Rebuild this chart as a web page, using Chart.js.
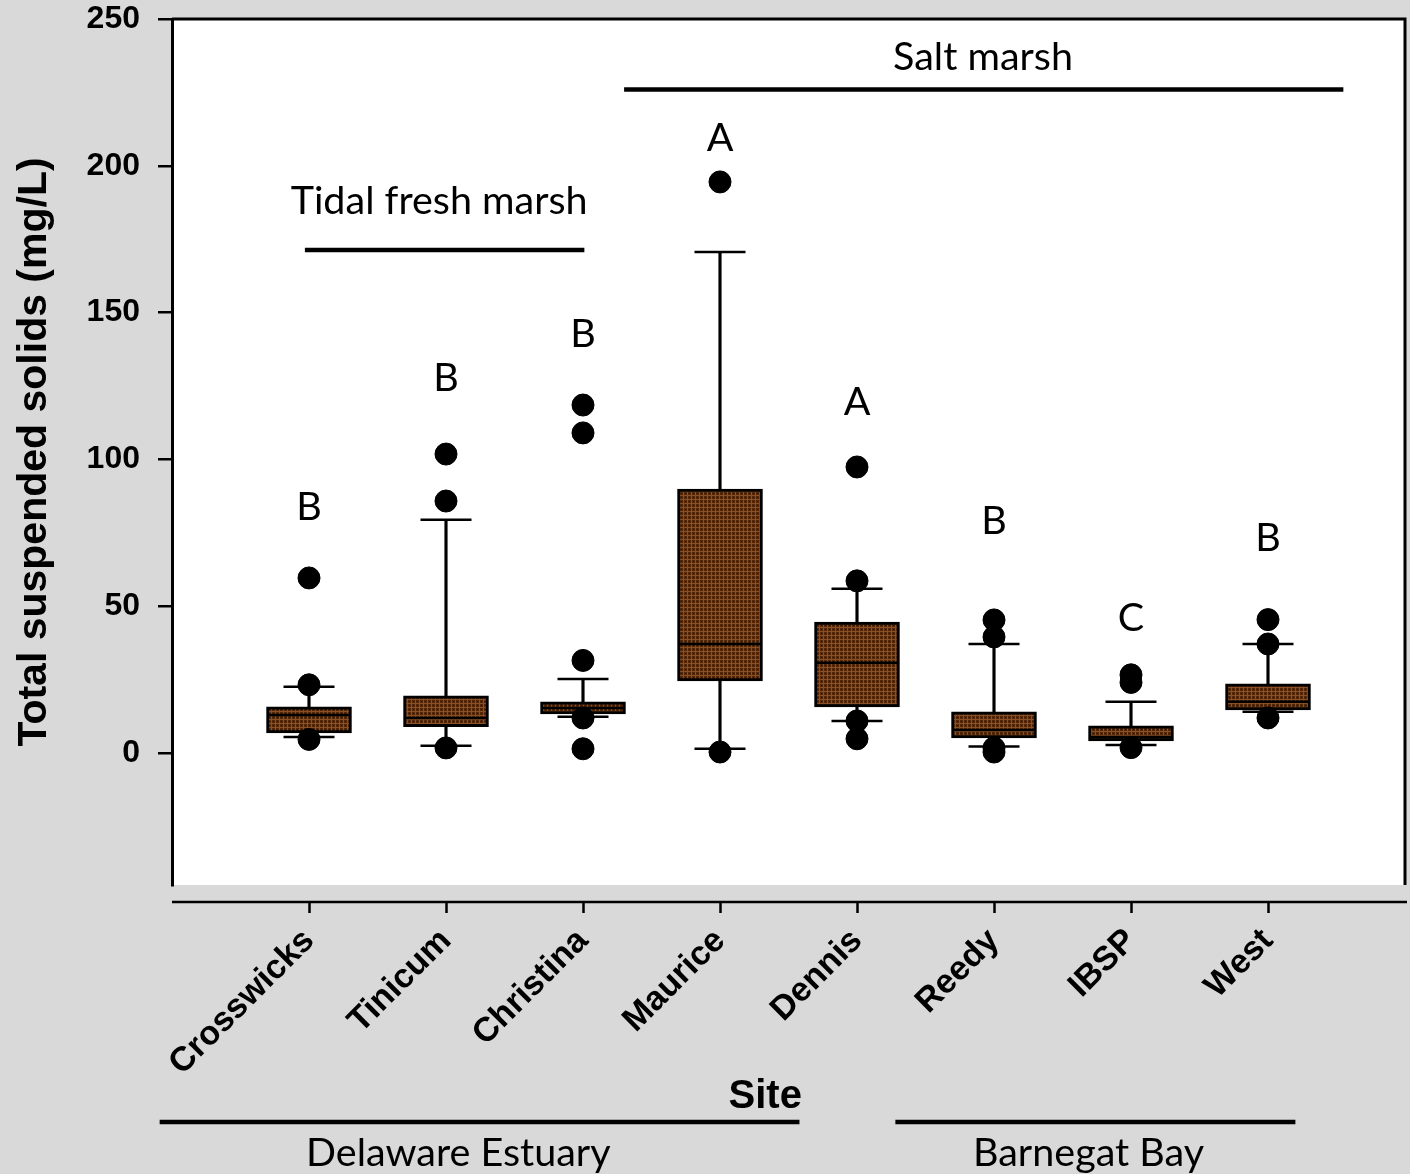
<!DOCTYPE html>
<html>
<head>
<meta charset="utf-8">
<script src="https://cdn.jsdelivr.net/npm/chart.js@4"></script>
<style>
  html, body { margin: 0; padding: 0; background: #d9d9d9; }
  canvas { display: block; }
</style>
</head>
<body>
<canvas id="tssChart" width="1410" height="1174"></canvas>
<script>
// box plot summaries (mg/L)
const sites = ['Crosswicks', 'Tinicum', 'Christina', 'Maurice', 'Dennis', 'Reedy', 'IBSP', 'West'];
const whiskerLow = [5.4, 2.4, 12.3, 1.4, 10.9, 2.2, 2.7, 14.0];
const q1 = [6.8, 8.9, 13.3, 24.5, 15.7, 5.1, 4.1, 14.6];
const median = [12.9, 11.9, 15.3, 37.1, 30.7, 7.8, 5.4, 17.4];
const q3 = [15.7, 19.4, 17.4, 89.9, 44.6, 14.0, 9.2, 23.5];
const whiskerHigh = [22.5, 79.4, 25.2, 170.6, 55.9, 37.1, 17.4, 37.1];
const outliers = [
    [59.6, 23.2, 4.6],
    [101.8, 85.8, 1.7],
    [118.5, 109.0, 31.5, 11.9, 1.4],
    [194.5, 0.3],
    [97.4, 58.6, 10.9, 4.8],
    [45.3, 39.5, 1.7, 0.3],
    [26.6, 24.0, 1.8],
    [45.4, 37.1, 11.9]
];
const letters = ['B', 'B', 'B', 'A', 'A', 'B', 'C', 'B'];
const letterY = [83.8, 127.7, 142.7, 209.5, 119.5, 79.0, 46.0, 73.2];
const yTicks = [0, 50, 100, 150, 200, 250];

// group bars (x in category units, y in data units)
const innerGroups = [
    { label: 'Tidal fresh marsh', from: -0.03, to: 2.01, y: 171.3, textX: 0.95, textY: 188 },
    { label: 'Salt marsh', from: 2.30, to: 7.55, y: 226, textX: 4.92, textY: 237 }
];
const outerGroups = [
    { label: 'Delaware Estuary', from: -1.09, to: 3.58, textX: 1.09 },
    { label: 'Barnegat Bay', from: 4.28, to: 7.2, textX: 5.69 }
];

const ctx = document.getElementById('tssChart').getContext('2d');

function boxPattern() {
    const c = document.createElement('canvas');
    c.width = 4; c.height = 4;
    const g = c.getContext('2d');
    g.fillStyle = '#8a4f22';
    g.fillRect(0, 0, 4, 4);
    g.fillStyle = '#552709';
    g.fillRect(0, 0, 3, 3);
    g.fillStyle = '#2f1202';
    g.fillRect(1, 1, 1, 1);
    return ctx.createPattern(c, 'repeat');
}

const idx = sites.map((s, i) => i);

const decor = {
    id: 'decor',
    beforeDraw(chart) {
        const { ctx, chartArea: a } = chart;
        ctx.save();
        ctx.fillStyle = '#d9d9d9';
        ctx.fillRect(0, 0, chart.width, chart.height);
        ctx.fillStyle = '#ffffff';
        ctx.fillRect(a.left, a.top, a.right - a.left, a.bottom - a.top);
        ctx.restore();
    },
    afterDraw(chart) {
        const { ctx, chartArea: a } = chart;
        const x = chart.scales.x, y = chart.scales.y;
        ctx.save();
        ctx.strokeStyle = '#000';
        ctx.fillStyle = '#000';

        // frame top and right
        ctx.lineWidth = 3;
        ctx.beginPath();
        ctx.moveTo(a.left, a.top);
        ctx.lineTo(a.right, a.top);
        ctx.lineTo(a.right, a.bottom);
        ctx.stroke();

        // detached x axis
        const axisY = a.bottom + 17;
        ctx.lineWidth = 2.5;
        ctx.beginPath();
        ctx.moveTo(a.left, axisY);
        ctx.lineTo(a.right + 2, axisY);
        idx.forEach(i => {
            const px = Math.round(x.getPixelForValue(i)) + 0.5;
            ctx.moveTo(px, axisY);
            ctx.lineTo(px, axisY + 11);
        });
        ctx.stroke();

        // significance letters
        ctx.font = '39.5px Lato';
        ctx.textAlign = 'center';
        ctx.textBaseline = 'middle';
        letters.forEach((l, i) => {
            ctx.fillText(l, x.getPixelForValue(i), y.getPixelForValue(letterY[i]));
        });

        // habitat groups inside plot
        ctx.lineWidth = 4.5;
        innerGroups.forEach(g => {
            const py = y.getPixelForValue(g.y);
            ctx.beginPath();
            ctx.moveTo(x.getPixelForValue(g.from), py);
            ctx.lineTo(x.getPixelForValue(g.to), py);
            ctx.stroke();
            ctx.fillText(g.label, x.getPixelForValue(g.textX), y.getPixelForValue(g.textY));
        });

        // axis title
        ctx.font = 'bold 40px "Liberation Sans", Arial';
        ctx.fillText('Site', x.getPixelForValue(3.33), 1097);

        // estuary groups below the axis
        ctx.font = '39.5px Lato';
        outerGroups.forEach(g => {
            ctx.beginPath();
            ctx.moveTo(x.getPixelForValue(g.from), 1122);
            ctx.lineTo(x.getPixelForValue(g.to), 1122);
            ctx.stroke();
            ctx.fillText(g.label, x.getPixelForValue(g.textX), 1153);
        });
        ctx.restore();
    }
};

new Chart(ctx, {
    data: {
        datasets: [
            {
                type: 'scatter',
                order: 0,
                data: outliers.flatMap((vals, i) => vals.map(v => ({ x: i, y: v }))),
                backgroundColor: '#000',
                borderColor: '#000',
                pointRadius: 11
            },
            {
                type: 'scatter',
                order: 1,
                data: idx.flatMap(i => [{ x: i, y: whiskerLow[i] }, { x: i, y: whiskerHigh[i] }]),
                pointStyle: 'line',
                pointRadius: 25.5,
                borderColor: '#000',
                borderWidth: 2.5
            },
            {
                type: 'scatter',
                order: 2,
                data: idx.map(i => ({ x: i, y: median[i] })),
                pointStyle: 'line',
                pointRadius: 41,
                borderColor: '#000',
                borderWidth: 2.5
            },
            {
                type: 'bar',
                order: 3,
                grouped: false,
                data: idx.map(i => ({ x: i, y: [q1[i], q3[i]] })),
                backgroundColor: boxPattern(),
                borderColor: '#000',
                borderWidth: 3,
                borderSkipped: false,
                barThickness: 85
            },
            {
                type: 'bar',
                order: 4,
                grouped: false,
                data: idx.map(i => ({ x: i, y: [whiskerLow[i], whiskerHigh[i]] })),
                backgroundColor: '#000',
                borderWidth: 0,
                barThickness: 2.5
            }
        ]
    },
    options: {
        responsive: false,
        animation: false,
        layout: { autoPadding: false, padding: { top: 19, right: 5, left: 0, bottom: 0 } },
        plugins: { legend: { display: false }, tooltip: { enabled: false } },
        scales: {
            x: {
                type: 'linear',
                offset: false,
                min: -1,
                max: 8,
                afterDataLimits: s => { s.min = -1; s.max = 8; },
                afterBuildTicks: s => { s.ticks = idx.map(v => ({ value: v })); },
                afterFit: s => { s.height = 289; s.paddingLeft = 0; s.paddingRight = 0; },
                grid: { display: false, drawTicks: false, offset: false },
                border: { display: false },
                ticks: {
                    callback: v => sites[v] ?? '',
                    minRotation: 45,
                    maxRotation: 45,
                    autoSkip: false,
                    padding: 36,
                    color: '#000',
                    font: { family: '"Liberation Sans", Arial', size: 34, weight: 'bold' }
                }
            },
            y: {
                min: -45,
                max: 250,
                afterBuildTicks: s => { s.ticks = yTicks.map(v => ({ value: v })); },
                afterFit: s => { s.width = 172; s.paddingTop = 0; s.paddingBottom = 0; },
                grid: { drawOnChartArea: false, tickLength: 14, color: '#000', lineWidth: 2.5 },
                border: { color: '#000', width: 3 },
                ticks: {
                    padding: 18,
                    color: '#000',
                    font: { family: '"Liberation Sans", Arial', size: 32, weight: 'bold' }
                },
                title: {
                    display: true,
                    text: 'Total suspended solids (mg/L)',
                    color: '#000',
                    padding: { top: 10, bottom: 0 },
                    font: { family: '"Liberation Sans", Arial', size: 41, weight: 'bold' }
                }
            }
        }
    },
    plugins: [decor]
});
</script>
</body>
</html>
